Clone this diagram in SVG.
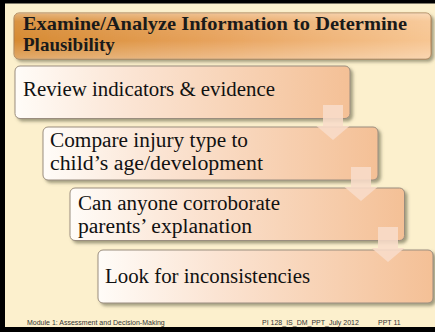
<svg xmlns="http://www.w3.org/2000/svg" width="435" height="332" viewBox="0 0 435 332">
  <defs>
    <linearGradient id="titleH" x1="0" y1="0" x2="1" y2="0">
      <stop offset="0" stop-color="#d68a32"/>
      <stop offset="0.5" stop-color="#e8a45f"/>
      <stop offset="1" stop-color="#f7c693"/>
    </linearGradient>
    <linearGradient id="titleV" x1="0" y1="0" x2="0" y2="1">
      <stop offset="0" stop-color="#ffffff" stop-opacity="0.35"/>
      <stop offset="0.18" stop-color="#ffffff" stop-opacity="0.08"/>
      <stop offset="0.6" stop-color="#ffffff" stop-opacity="0"/>
      <stop offset="1" stop-color="#ffffff" stop-opacity="0.28"/>
    </linearGradient>
    <linearGradient id="boxG" x1="0" y1="0" x2="1" y2="0">
      <stop offset="0" stop-color="#fffcf8"/>
      <stop offset="0.35" stop-color="#fbe4d3"/>
      <stop offset="1" stop-color="#f4c096"/>
    </linearGradient>
    <filter id="shadow" x="-5%" y="-10%" width="115%" height="130%">
      <feDropShadow dx="2.5" dy="2.5" stdDeviation="1.4" flood-color="#5a5a3c" flood-opacity="0.55"/>
    </filter>
  </defs>
  <style>
    .box { fill: url(#boxG); stroke: #9a8d7e; stroke-width: 1; filter: url(#shadow); }
    .txt { font-family: "Liberation Serif", "Times New Roman", serif; font-size: 20px; fill: #111111; }
    .title { font-family: "Liberation Serif", "Times New Roman", serif; font-size: 19px; font-weight: bold; fill: #1a1a1a; }
    .foot { font-family: "Liberation Sans", Arial, sans-serif; font-size: 7px; fill: #333333; }
    .arrow { fill: #f8dcca; fill-opacity: 0.88; }
  </style>

  <!-- frame and background -->
  <rect x="0" y="0" width="435" height="332" fill="#000000"/>
  <rect x="5" y="3.5" width="430" height="323.5" fill="#fcf0cd"/>

  <g id="title">
    <rect x="14" y="13" width="417" height="46" rx="5" fill="url(#titleH)" stroke="#a77d4e" stroke-width="1" filter="url(#shadow)"/>
    <rect x="14" y="13" width="417" height="46" rx="5" fill="url(#titleV)"/>
    <text class="title" x="23" y="30" textLength="384" lengthAdjust="spacingAndGlyphs">Examine/Analyze Information to Determine</text>
    <text class="title" x="23" y="51">Plausibility</text>
  </g>

  <g id="node1">
    <rect class="box" x="15" y="66" width="335" height="52.5" rx="5"/>
    <text class="txt" x="23" y="96" textLength="252" lengthAdjust="spacingAndGlyphs">Review indicators &amp; evidence</text>
  </g>

  <g id="node2">
    <rect class="box" x="43" y="127" width="335" height="53" rx="5"/>
    <text class="txt" x="50" y="147" textLength="198" lengthAdjust="spacingAndGlyphs">Compare injury type to</text>
    <text class="txt" x="50" y="170" textLength="213" lengthAdjust="spacingAndGlyphs">child’s age/development</text>
  </g>

  <g id="node3">
    <rect class="box" x="70" y="188" width="334.5" height="52.5" rx="5"/>
    <text class="txt" x="78" y="209.5" textLength="202" lengthAdjust="spacingAndGlyphs">Can anyone corroborate</text>
    <text class="txt" x="78" y="232.5" textLength="174" lengthAdjust="spacingAndGlyphs">parents’ explanation</text>
  </g>

  <g id="node4">
    <rect class="box" x="98" y="250" width="335" height="53" rx="5"/>
    <text class="txt" x="105" y="283" textLength="205" lengthAdjust="spacingAndGlyphs">Look for inconsistencies</text>
  </g>

  <g id="connectors">
    <path class="arrow" d="M323,105 H343 V126 H349.5 L333,140 L316.5,126 H323 Z"/>
    <path class="arrow" d="M351,167 H371 V187 H377.5 L361,201 L344.5,187 H351 Z"/>
    <path class="arrow" d="M378,227 H398 V248 H404.5 L388,262 L371.5,248 H378 Z"/>
  </g>

  <g id="footer">
    <text class="foot" x="27" y="325">Module 1: Assessment and Decision-Making</text>
    <text class="foot" x="262" y="325">PI 128_IS_DM_PPT_July 2012</text>
    <text class="foot" x="378" y="325">PPT 11</text>
  </g>
</svg>
